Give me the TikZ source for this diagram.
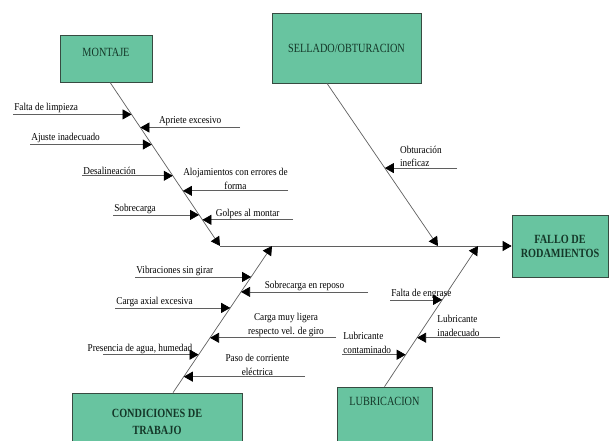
\documentclass[tikz,border=0pt]{standalone}
\usepackage{fontspec}
\setmainfont{Liberation Serif}
\newfontfamily\estrecha{Liberation Serif}[FakeStretch=0.88]
\newfontfamily\rotulo{Liberation Serif}[FakeStretch=0.82]
\usetikzlibrary{arrows.meta}
\definecolor{verde}{RGB}{104,196,160}
\definecolor{borde}{RGB}{55,75,65}
\definecolor{letra}{RGB}{20,55,40}
\definecolor{gris}{RGB}{95,95,95}

\begin{document}
\begin{tikzpicture}[x=1pt,y=-1pt,
    caja/.style={draw=borde,fill=verde,text=letra,line width=.7pt,
                 font=\rotulo\fontsize{12.5}{14}\selectfont,align=center,inner sep=0pt},
    espina/.style={draw=gris,line width=.7pt,-{Triangle[length=9pt,width=10pt,color=black]}},
    texto/.style={font=\estrecha\fontsize{10.5}{13.5}\selectfont,inner sep=1pt},
    izq/.style={texto,above right,pos=0,align=left},
    der/.style={texto,above,midway,align=center},
    derl/.style={der,align=left},
    derd/.style={der,xshift=13pt},
    fin/.style={texto,above left,pos=1,xshift=-5pt}]
\useasboundingbox (0,0) rectangle (611,441);

% cajas
\node[caja,minimum width=92pt,minimum height=47pt,text depth=12pt] (montaje) at (106,58.5) {MONTAJE};
\node[caja,minimum width=149pt,minimum height=70pt] (sellado) at (346.5,48) {SELLADO/OBTURACION};
\node[caja,minimum width=96pt,minimum height=62pt,font=\rotulo\fontsize{12.5}{14}\selectfont\bfseries] (fallo) at (560,246) {FALLO DE\\RODAMIENTOS};
\node[caja,minimum width=170pt,minimum height=57pt,font=\rotulo\fontsize{12.5}{17}\selectfont\bfseries] (condiciones) at (157,421.5) {CONDICIONES DE\\TRABAJO};
\node[caja,minimum width=95pt,minimum height=62pt,text depth=33pt] (lubricacion) at (384.5,418) {LUBRICACION};

% espina principal
\coordinate (cola) at (220,246);
\coordinate (pC) at (272,246);
\coordinate (pS) at (438,246);
\coordinate (pL) at (478,246);
\draw[espina] (cola) -- (fallo);

% MONTAJE
\coordinate (m0) at ([xshift=4pt]montaje.south);
\draw[espina] (m0) -- (cola);
\foreach \p/\x/\op/\txt [count=\i] in {.196/13/izq/Falta de limpieza,
        .276/240/der/Apriete excesivo,
        .380/30/izq/Ajuste inadecuado,
        .571/82/izq/Desalineación,
        .663/288/der/{Alojamientos con errores de\\forma},
        .810/113/izq/Sobrecarga,
        .840/293/der/Golpes al montar}{
    \path (m0) -- (cola) coordinate[pos=\p] (t);
    \draw[espina] (\x,0 |- t) -- (t) node[\op] (m\i) {\txt};
}

% SELLADO/OBTURACION
\coordinate (s0) at ([xshift=-19.5pt]sellado.south);
\draw[espina] (s0) -- (pS);
\path (s0) -- (pS) coordinate[pos=.521] (t);
\draw[espina] (457,0 |- t) -- (t) node[derl] (s1) {Obturación\\ineficaz};

% CONDICIONES DE TRABAJO
\coordinate (c0) at ([xshift=16pt]condiciones.north);
\draw[espina] (c0) -- (pC);
\foreach \p/\x/\op/\txt [count=\i] in {.789/135/izq/Vibraciones sin girar,
        .687/368/der/Sobrecarga en reposo,
        .578/115/izq/Carga axial excesiva,
        .374/336/derd/{Carga muy ligera\\respecto vel. de giro},
        .259/103/fin/{Presencia de agua, humedad},
        .109/305/derd/{Paso de corriente\\eléctrica}}{
    \path (c0) -- (pC) coordinate[pos=\p] (t);
    \draw[espina] (\x,0 |- t) -- (t) node[\op] (c\i) {\txt};
}

% LUBRICACION
\coordinate (l0) at (lubricacion.north);
\draw[espina] (l0) -- (pL);
\foreach \p/\x/\op/\txt [count=\i] in {.617/390/izq/Falta de engrase,
        .348/500/derl/{Lubricante\\inadecuado},
        .227/342/izq/{Lubricante\\contaminado}}{
    \path (l0) -- (pL) coordinate[pos=\p] (t);
    \draw[espina] (\x,0 |- t) -- (t) node[\op] (l\i) {\txt};
}
\end{tikzpicture}
\end{document}
